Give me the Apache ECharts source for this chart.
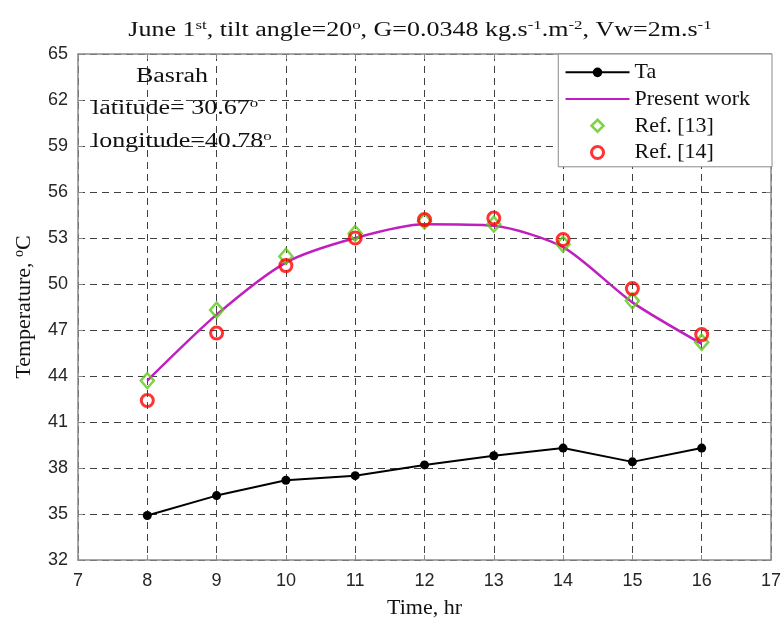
<!DOCTYPE html>
<html>
<head>
<meta charset="utf-8">
<script src="https://cdn.jsdelivr.net/npm/echarts@6/dist/echarts.min.js"></script>
<style>
  html, body { margin: 0; padding: 0; background: #fff; }
  #chart { width: 784px; height: 625px; }
</style>
</head>
<body>
<div id="chart"></div>
<script>
// Hour of day (June 1st, Basrah)
const hours = [8, 9, 10, 11, 12, 13, 14, 15, 16];
// Ambient temperature, °C
const ambientTemp = [34.9, 36.2, 37.2, 37.5, 38.2, 38.8, 39.3, 38.4, 39.3];
// Present work, °C
const presentWork = [43.7, 48.0, 51.4, 53.0, 53.9, 53.8, 52.4, 48.8, 46.1];
// Ref. [13], °C
const ref13 = [43.7, 48.3, 51.8, 53.3, 54.1, 53.9, 52.6, 48.9, 46.2];
// Ref. [14], °C
const ref14 = [42.4, 46.8, 51.2, 53.0, 54.2, 54.3, 52.9, 49.7, 46.7];

const xRange = [7, 17];
const yRange = [32, 65];
const yStep = 3;

const pair = (xs, ys) => xs.map((x, i) => [x, ys[i]]);

const serif = '"Liberation Serif", "Times New Roman", serif';
const sans = '"Liberation Sans", Arial, sans-serif';
const frameColor = '#8a8a8a';
const gridColor = '#404040';
const textColor = '#111';

// wide figure lettering
const stretch = 1.3;

// legend diamond kept small and centred inside the 64x12 legend slot
const legendDiamond = 'path://M0,0M64,12M32,0L38,6L32,12L26,6Z';

const chart = echarts.init(document.getElementById('chart'), null, { renderer: 'canvas' });

const supAxis = { fontFamily: serif, fontSize: 14, color: textColor, verticalAlign: 'top', lineHeight: 14 };
const supText = { fontFamily: serif, fontSize: 13, fill: textColor, verticalAlign: 'top', lineHeight: 13 };

const legendEntry = (name, extra) => Object.assign({ name }, extra || {});

chart.setOption({
  animation: false,
  backgroundColor: '#fff',
  grid: { left: 78, right: 12, top: 54, bottom: 62 },
  legend: {
    orient: 'vertical',
    right: 12,
    top: 54,
    padding: [5, 22, 1, 6],
    itemWidth: 64,
    itemHeight: 12,
    itemGap: 0,
    backgroundColor: '#fff',
    borderColor: frameColor,
    borderWidth: 1,
    textStyle: { fontFamily: serif, fontSize: 22, color: textColor, lineHeight: 26.7 },
    data: [
      legendEntry('Ta'),
      legendEntry('Present work', { itemStyle: { opacity: 0 } }),
      legendEntry('Ref. [13]', { icon: legendDiamond, itemStyle: { borderWidth: 2.5 } }),
      legendEntry('Ref. [14]', { itemStyle: { borderWidth: 3 } })
    ]
  },
  xAxis: [{
    type: 'value',
    min: xRange[0], max: xRange[1], interval: 1,
    name: 'Time, hr',
    nameLocation: 'middle',
    nameGap: 36,
    nameTextStyle: { fontFamily: serif, fontSize: 22, color: textColor, lineHeight: 24 },
    axisLine: { show: true, lineStyle: { color: frameColor, width: 1.5 } },
    axisTick: { show: true, inside: true, length: 5, lineStyle: { color: frameColor } },
    axisLabel: { fontFamily: sans, fontSize: 18, color: '#262626', margin: 12 },
    splitLine: { show: true, lineStyle: { color: gridColor, type: [7, 5], width: 1 } }
  }, {
    type: 'value',
    position: 'top',
    min: xRange[0], max: xRange[1], interval: 1,
    axisLine: { show: true, lineStyle: { color: frameColor, width: 1.5 } },
    axisTick: { show: true, inside: true, length: 5, lineStyle: { color: frameColor } },
    axisLabel: { show: false },
    splitLine: { show: false }
  }],
  yAxis: [{
    type: 'value',
    min: yRange[0], max: yRange[1], interval: yStep,
    name: 'Temperature, {s|o}C',
    nameLocation: 'middle',
    nameGap: 42,
    nameTextStyle: { fontFamily: serif, fontSize: 22, color: textColor, lineHeight: 24, rich: { s: supAxis } },
    axisLine: { show: true, lineStyle: { color: frameColor, width: 1.5 } },
    axisTick: { show: true, inside: true, length: 5, lineStyle: { color: frameColor } },
    axisLabel: { fontFamily: sans, fontSize: 18, color: '#262626', margin: 10 },
    splitLine: { show: true, lineStyle: { color: gridColor, type: [7, 5], width: 1 } }
  }, {
    type: 'value',
    position: 'right',
    min: yRange[0], max: yRange[1], interval: yStep,
    axisLine: { show: true, lineStyle: { color: frameColor, width: 1.5 } },
    axisTick: { show: true, inside: true, length: 5, lineStyle: { color: frameColor } },
    axisLabel: { show: false },
    splitLine: { show: false }
  }],
  graphic: [{
    // chart title
    type: 'text',
    x: 420, y: 31,
    scaleX: stretch,
    style: {
      text: 'June 1{s|st}, tilt angle=20{s|o}, G=0.0348 kg.s{s|-1}.m{s|-2}, Vw=2m.s{s|-1}',
      fontFamily: serif, fontSize: 20, fill: textColor, lineHeight: 24,
      align: 'center', verticalAlign: 'middle',
      rich: { s: supText }
    },
    z: 10
  }, {
    type: 'text',
    x: 172, y: 77,
    scaleX: stretch,
    style: {
      text: 'Basrah',
      fontFamily: serif, fontSize: 20, fill: textColor,
      align: 'center', verticalAlign: 'middle'
    },
    z: 10
  }, {
    type: 'text',
    x: 92, y: 109,
    scaleX: stretch,
    style: {
      text: 'latitude= 30.67{s|o}',
      fontFamily: serif, fontSize: 20, fill: textColor, lineHeight: 24,
      align: 'left', verticalAlign: 'middle',
      rich: { s: supText }
    },
    z: 10
  }, {
    type: 'text',
    x: 92, y: 142,
    scaleX: stretch,
    style: {
      text: 'longitude=40.78{s|o}',
      fontFamily: serif, fontSize: 20, fill: textColor, lineHeight: 24,
      align: 'left', verticalAlign: 'middle',
      rich: { s: supText }
    },
    z: 10
  }],
  series: [{
    name: 'Ta',
    type: 'line',
    data: pair(hours, ambientTemp),
    symbol: 'circle',
    symbolSize: 9,
    itemStyle: { color: '#000' },
    lineStyle: { color: '#000', width: 2 },
    z: 3
  }, {
    name: 'Present work',
    type: 'line',
    data: pair(hours, presentWork),
    smooth: 0.25,
    showSymbol: false,
    symbol: 'none',
    itemStyle: { color: '#c01fc0' },
    lineStyle: { color: '#c01fc0', width: 2.5 },
    z: 3
  }, {
    name: 'Ref. [13]',
    type: 'scatter',
    data: pair(hours, ref13),
    symbol: 'diamond',
    symbolSize: [13, 15],
    itemStyle: { color: 'rgba(0,0,0,0)', borderColor: '#5cc814', borderWidth: 2.5 },
    z: 4
  }, {
    name: 'Ref. [14]',
    type: 'scatter',
    data: pair(hours, ref14),
    symbol: 'circle',
    symbolSize: 12,
    itemStyle: { color: 'rgba(0,0,0,0)', borderColor: '#ff0000', borderWidth: 3 },
    z: 5
  }]
});
</script>
</body>
</html>
